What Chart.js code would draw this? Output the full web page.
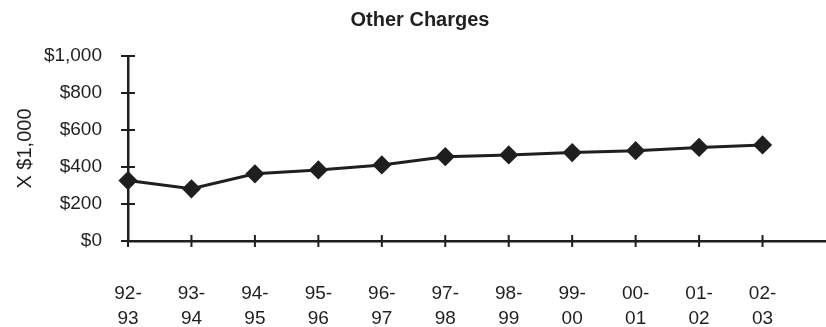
<!DOCTYPE html>
<html lang="en">
<head>
    <meta charset="utf-8">
    <title>Other Charges</title>
    <script src="https://cdn.jsdelivr.net/npm/chart.js"></script>
    <style>
        html, body { margin: 0; padding: 0; background: #fff; }
        #wrap { width: 826px; height: 327px; position: relative; }
    </style>
</head>
<body>
<div id="wrap"><canvas id="myChart"></canvas></div>
<script>
    // fiscal years, last slot is empty so the axis runs on past 02-03
    const years = [['92-', '93'], ['93-', '94'], ['94-', '95'], ['95-', '96'], ['96-', '97'],
        ['97-', '98'], ['98-', '99'], ['99-', '00'], ['00-', '01'], ['01-', '02'], ['02-', '03'], ''];
    const otherCharges = [327, 282, 363, 384, 411, 456, 465, 478, 488, 506, 519];
    const yTicks = [0, 200, 400, 600, 800, 1000];

    const FONT = "'Liberation Sans', Arial, sans-serif";
    const INK = '#1f1f1f';

    // tick marks that cross the axis line on both sides
    const crossTicks = {
        id: 'crossTicks',
        afterDraw(chart) {
            const ctx = chart.ctx;
            const x = chart.scales.x, y = chart.scales.y;
            ctx.save();
            ctx.strokeStyle = INK;
            ctx.lineWidth = 2;
            ctx.beginPath();
            yTicks.forEach(v => {
                const py = y.getPixelForValue(v);
                ctx.moveTo(x.left - 7, py);
                ctx.lineTo(x.left + 7, py);
            });
            for (let i = 0; i < otherCharges.length; i++) {
                const px = x.getPixelForValue(i);
                ctx.moveTo(px, y.bottom - 6);
                ctx.lineTo(px, y.bottom + 6);
            }
            ctx.stroke();
            ctx.restore();
        }
    };

    const titleText = {
        id: 'titleText',
        afterDraw(chart) {
            const ctx = chart.ctx;
            ctx.save();
            ctx.fillStyle = INK;
            ctx.font = 'bold 20px ' + FONT;
            ctx.textAlign = 'center';
            ctx.textBaseline = 'middle';
            ctx.fillText('Other Charges', 420, 20);
            ctx.restore();
        }
    };

    let dataobj = {
        type: 'line',
        data: {
            labels: years,
            datasets: [{
                label: 'Other Charges',
                data: otherCharges,
                borderColor: INK,
                backgroundColor: INK,
                borderWidth: 3,
                pointStyle: 'rectRot',
                pointRadius: 7.5,
                pointHoverRadius: 7.5,
                tension: 0,
                clip: false
            }]
        },
        options: {
            responsive: true,
            maintainAspectRatio: false,
            animation: false,
            layout: { autoPadding: false, padding: { top: 56, right: 0, left: 13, bottom: 0 } },
            plugins: {
                legend: { display: false },
                tooltip: { enabled: false }
            },
            scales: {
                x: {
                    offset: false,
                    grid: { display: false, drawTicks: false },
                    border: { color: INK, width: 2.5 },
                    ticks: {
                        color: INK,
                        font: { family: FONT, size: 19, lineHeight: 1.32 },
                        padding: 40,
                        maxRotation: 0,
                        autoSkip: false
                    },
                    afterFit(scale) {
                        scale.height = 86;
                        scale.paddingLeft = 0;
                        scale.paddingRight = 0;
                    }
                },
                y: {
                    min: 0,
                    max: 1000,
                    afterBuildTicks(scale) { scale.ticks = yTicks.map(v => ({ value: v })); },
                    grid: { display: false, drawTicks: false },
                    border: { color: INK, width: 2.5 },
                    ticks: {
                        color: INK,
                        font: { family: FONT, size: 19 },
                        padding: 26,
                        callback: v => '$' + v.toLocaleString('en-US')
                    },
                    title: {
                        display: true,
                        text: 'X $1,000',
                        color: INK,
                        font: { family: FONT, size: 20 },
                        padding: { top: 0, bottom: 4 }
                    },
                    afterFit(scale) {
                        scale.width = 115;
                        scale.paddingTop = 0;
                        scale.paddingBottom = 0;
                    }
                }
            }
        },
        plugins: [crossTicks, titleText]
    };

    var ctx = document.getElementById('myChart').getContext('2d');
    window.myLine = new Chart(ctx, dataobj);
</script>
</body>
</html>
